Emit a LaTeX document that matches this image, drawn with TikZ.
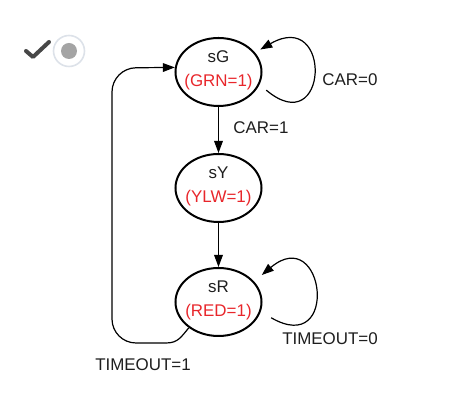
\documentclass[tikz,border=0pt]{standalone}
\usepackage{fontspec}
\setmainfont{Liberation Sans}
\usetikzlibrary{shapes.geometric,arrows.meta}

\definecolor{outred}{HTML}{E8262B}
\definecolor{inkgray}{HTML}{1E1E1E}
\definecolor{tickgray}{HTML}{474747}
\definecolor{ringgray}{HTML}{DDE2E9}
\definecolor{dotgray}{HTML}{A4A4A4}

\begin{document}
\begin{tikzpicture}[x=0.75pt, y=0.75pt,
    state/.style={draw, ellipse, line width=1.5pt, minimum width=64.5pt, minimum height=51pt, inner sep=0pt},
    arr/.style={line width=0.9pt, -{Triangle[length=9pt, width=6.5pt]}},
    lbl/.style={font=\fontsize{12.7}{15}\selectfont, text=inkgray, inner sep=0pt},
    outlbl/.style={lbl, text=outred}]
    \useasboundingbox (0,0) rectangle (465,402);

    % Check mark and radio button
    \draw[tickgray, line width=3pt, line cap=round, line join=round] (26,351) -- (33,345) -- (49,360);
    \draw[ringgray, line width=1.2pt, fill=white] (69,351) circle (15.5);
    \fill[dotgray] (69,351) circle (8);

    % States
    \node[state] (sG) at (218.5,330) {};
    \node[state] (sY) at (218.5,214) {};
    \node[state] (sR) at (218.5,100) {};

    % State names and outputs
    \node[lbl] (sGname) at (218.5,345) {sG};
    \node[outlbl] (sGout) at (218.5,320) {(GRN=1)};
    \node[lbl] (sYname) at (218.5,229) {sY};
    \node[outlbl] (sYout) at (218.5,204) {(YLW=1)};
    \node[lbl] (sRname) at (218.5,115) {sR};
    \node[outlbl] (sRout) at (218.5,90) {(RED=1)};

    % Transitions
    \draw[arr] (sG.south) -- (sY.north);
    \draw[arr] (sY.south) -- (sR.north);
    \draw[arr, shorten <=6.5pt, shorten >=4.5pt] (sG.-17) .. controls +(-40:90) and +(30:90) .. (sG.28);
    \draw[arr, shorten <=9pt, shorten >=7.5pt] (sR.-13) .. controls +(-30:92) and +(40:92) .. (sR.30);
    \draw[arr] (sR.221) .. controls +(-130:12) and +(0:12) .. (166,59)
        [rounded corners=18pt] -- (112,59) -- (112,334) -- (sG.174);

    % Conditions
    \node[lbl] (car1) at (261,274) {CAR=1};
    \node[lbl] (car0) at (350,322) {CAR=0};
    \node[lbl] (tout0) at (330,63) {TIMEOUT=0};
    \node[lbl] (tout1) at (143,37) {TIMEOUT=1};
\end{tikzpicture}
\end{document}
